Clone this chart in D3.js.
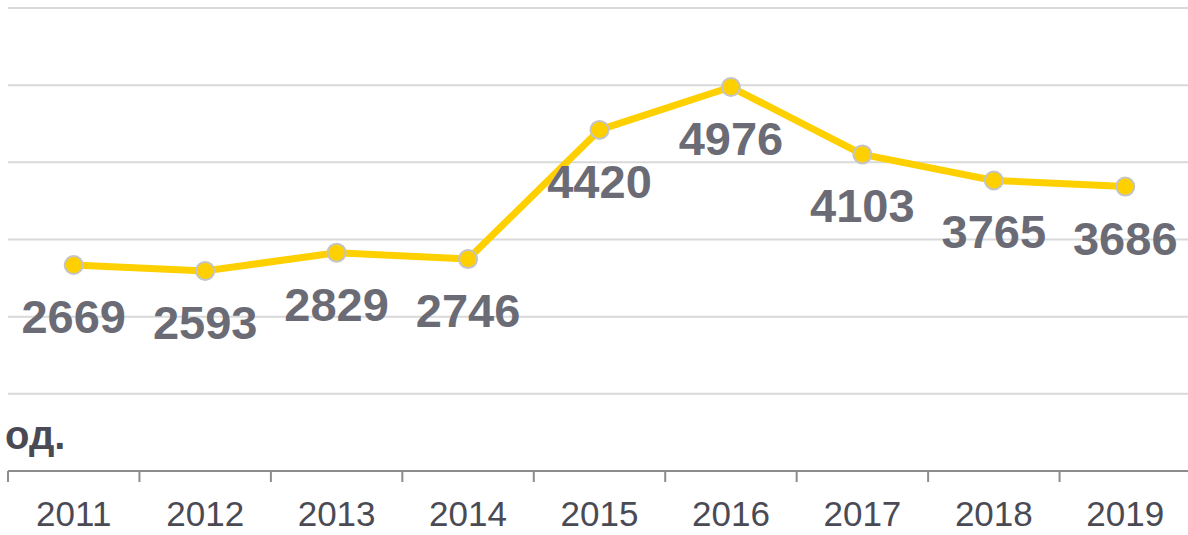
<!DOCTYPE html>
<html>
<head>
<meta charset="utf-8">
<script src="https://cdn.jsdelivr.net/npm/d3@7"></script>
<style>
	body { margin: 0; background: #fff; }
	svg { font-family: "Liberation Sans", Arial, sans-serif; }
</style>
</head>
<body>
<svg id="chart" width="1188" height="535"></svg>
<script>
var years = ["2011", "2012", "2013", "2014", "2015", "2016", "2017", "2018", "2019"];
var counts = [2669, 2593, 2829, 2746, 4420, 4976, 4103, 3765, 3686];
var gridValues = [1000, 2000, 3000, 4000, 5000, 6000];
var unitLabel = "од.";

var svg = d3.select("svg#chart"),
	margin = { top: 8, right: -3, bottom: 64, left: 8 },
	width = svg.attr("width") - margin.left - margin.right,
	height = svg.attr("height") - margin.top - margin.bottom,
	g = svg.append("g").attr("transform", "translate(" + margin.left + "," + margin.top + ")");

var data = years.map(function (d, i) { return { year: d, value: counts[i] }; });

// scales
var x = d3.scaleBand().domain(years).range([0, width]);
var y = d3.scaleLinear().domain([0, 6000]).range([height, 0]);

// gridlines
g.selectAll(".grid")
	.data(gridValues)
	.enter().append("line")
	.attr("class", "grid")
	.attr("x1", 0)
	.attr("x2", width + 10)
	.attr("y1", function (d) { return y(d); })
	.attr("y2", function (d) { return y(d); })
	.style("stroke", "#d9d9d9")
	.style("stroke-width", 2);

// x axis, ticks sit on band edges
var xAxis = g.append("g")
	.attr("transform", "translate(0," + height + ")")
	.call(d3.axisBottom(x).tickSize(0).tickPadding(30));
xAxis.select(".domain").attr("d", "M0,0H" + (width + 10)).style("stroke", "#8c8c8c").style("stroke-width", 2);
xAxis.selectAll("text")
	.style("font-size", "35px")
	.style("fill", "#4a4a55");
xAxis.selectAll(".edge")
	.data(years)
	.enter().append("line")
	.attr("class", "edge")
	.attr("x1", function (d) { return x(d); })
	.attr("x2", function (d) { return x(d); })
	.attr("y1", 0)
	.attr("y2", 11)
	.style("stroke", "#8c8c8c")
	.style("stroke-width", 2);

// unit label
g.append("text")
	.attr("x", -3)
	.attr("y", height - 22)
	.style("font-size", "40px")
	.style("font-weight", "bold")
	.style("fill", "#4a4a55")
	.text(unitLabel);

// line
var valueline = d3.line()
	.x(function (d) { return x(d.year) + x.bandwidth() / 2; })
	.y(function (d) { return y(d.value); });

g.append("path")
	.datum(data)
	.attr("d", valueline)
	.style("fill", "none")
	.style("stroke", "#ffd000")
	.style("stroke-width", 7)
	.style("stroke-linejoin", "round");

// points
g.selectAll(".dot")
	.data(data)
	.enter().append("circle")
	.attr("class", "dot")
	.attr("cx", function (d) { return x(d.year) + x.bandwidth() / 2; })
	.attr("cy", function (d) { return y(d.value); })
	.attr("r", 9)
	.style("fill", "#ffd000")
	.style("stroke", "#c4c4c4")
	.style("stroke-width", 2);

// value labels
g.selectAll(".val")
	.data(data)
	.enter().append("text")
	.attr("class", "val")
	.attr("x", function (d) { return x(d.year) + x.bandwidth() / 2; })
	.attr("y", function (d) { return y(d.value) + 68; })
	.attr("text-anchor", "middle")
	.style("font-size", "47px")
	.style("font-weight", "bold")
	.style("fill", "#6b6b75")
	.text(function (d) { return d.value; });
</script>
</body>
</html>
